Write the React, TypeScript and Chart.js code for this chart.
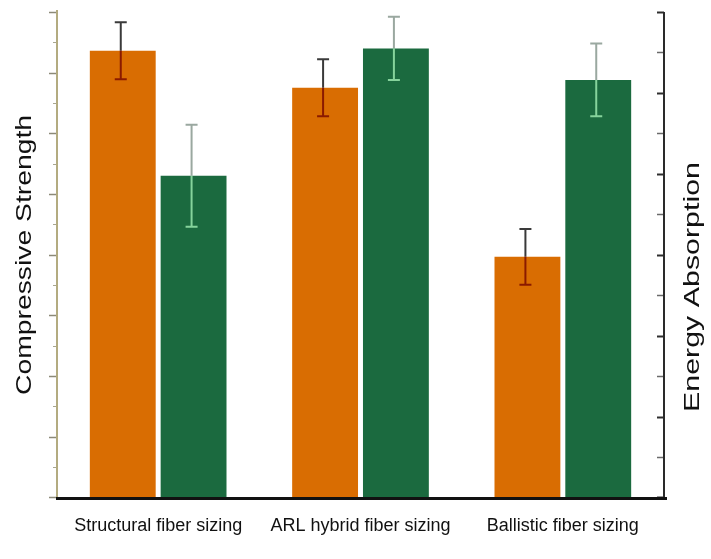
import { useEffect, useRef } from "react";
import { Chart, registerables } from "chart.js";

Chart.register(...registerables);

const categories = ["Structural fiber sizing", "ARL hybrid fiber sizing", "Ballistic fiber sizing"];
const compressiveStrength = [14.72, 13.5, 7.93];
const compressiveError = [0.94, 0.94, 0.92];
const energyAbsorption = [7.95, 11.1, 10.32];
const energyError = [1.26, 0.78, 0.9];
const leftAxisMax = 16;
const rightAxisMax = 12;
const leftTitle = "Compressive Strength";
const rightTitle = "Energy Absorption";

const ORANGE = "#d96d02";
const GREEN = "#1b6a3f";
const FONT = "'Liberation Sans', Arial, sans-serif";

const errorsByDataset = [compressiveError, energyError];
const errorColors = [
  { outside: "#3a3a3a", inside: "#8a1a00" },
  { outside: "#9aa8a0", inside: "#86d39c" },
];

const errorBarPlugin = {
  id: "errorBars",
  afterDatasetsDraw(chart: any) {
    const ctx = chart.ctx;
    chart.data.datasets.forEach((ds: any, di: number) => {
      const meta = chart.getDatasetMeta(di);
      const scale = chart.scales[meta.yAxisID];
      const errs = errorsByDataset[di];
      const col = errorColors[di];
      meta.data.forEach((bar: any, i: number) => {
        const v = ds.data[i];
        const e = errs[i];
        const x = bar.x - 2;
        const yTop = scale.getPixelForValue(v + e);
        const yBar = scale.getPixelForValue(v);
        const yBot = scale.getPixelForValue(v - e);
        const cap = 6;
        ctx.save();
        ctx.lineWidth = 2;
        ctx.strokeStyle = col.outside;
        ctx.beginPath();
        ctx.moveTo(x, yTop);
        ctx.lineTo(x, yBar);
        ctx.moveTo(x - cap, yTop);
        ctx.lineTo(x + cap, yTop);
        ctx.stroke();
        ctx.strokeStyle = col.inside;
        ctx.beginPath();
        ctx.moveTo(x, yBar);
        ctx.lineTo(x, yBot);
        ctx.moveTo(x - cap, yBot);
        ctx.lineTo(x + cap, yBot);
        ctx.stroke();
        ctx.restore();
      });
    });
  },
};

const axesPlugin = {
  id: "customAxes",
  afterDatasetsDraw(chart: any) {
    const ctx = chart.ctx;
    const area = chart.chartArea;
    const yL = chart.scales.y;
    const yR = chart.scales.y1;
    ctx.save();
    // left axis ticks
    for (let v = 0; v <= leftAxisMax; v++) {
      const py = Math.round(yL.getPixelForValue(v)) + 0.5;
      const major = v % 2 === 0;
      ctx.strokeStyle = major ? "#8c8a78" : "#a8a690";
      ctx.lineWidth = major ? 1.5 : 1;
      ctx.beginPath();
      ctx.moveTo(area.left - (major ? 8 : 4), py);
      ctx.lineTo(area.left, py);
      ctx.stroke();
    }
    // left axis line
    ctx.strokeStyle = "#b3ab80";
    ctx.lineWidth = 2;
    ctx.beginPath();
    ctx.moveTo(area.left, yL.getPixelForValue(leftAxisMax) - 2);
    ctx.lineTo(area.left, area.bottom);
    ctx.stroke();
    // right axis ticks (inward)
    for (let v = 0; v <= rightAxisMax; v++) {
      const py = Math.round(yR.getPixelForValue(v)) + 0.5;
      const major = v % 2 === 0;
      ctx.strokeStyle = major ? "#2e2e2e" : "#6a6a6a";
      ctx.lineWidth = major ? 2 : 1.5;
      ctx.beginPath();
      ctx.moveTo(area.right - 7, py);
      ctx.lineTo(area.right, py);
      ctx.stroke();
    }
    // right axis line
    ctx.strokeStyle = "#2a2a2a";
    ctx.lineWidth = 2;
    ctx.beginPath();
    ctx.moveTo(area.right, yR.getPixelForValue(rightAxisMax));
    ctx.lineTo(area.right, area.bottom + 2);
    ctx.stroke();
    // bottom axis line
    ctx.strokeStyle = "#111111";
    ctx.lineWidth = 3;
    ctx.beginPath();
    ctx.moveTo(area.left - 1, area.bottom + 1);
    ctx.lineTo(area.right + 3, area.bottom + 1);
    ctx.stroke();
    // axis titles (rotated, reading upward)
    ctx.fillStyle = "#111111";
    ctx.font = `22px ${FONT}`;
    ctx.textAlign = "center";
    ctx.textBaseline = "middle";
    const drawTitle = (text: string, cx: number, cy: number, len: number) => {
      const w = ctx.measureText(text).width;
      ctx.save();
      ctx.translate(cx, cy);
      ctx.rotate(-Math.PI / 2);
      ctx.scale(len / w, 1);
      ctx.fillText(text, 0, 0);
      ctx.restore();
    };
    drawTitle(leftTitle, 25, 255, 280);
    drawTitle(rightTitle, 693, 287, 250);
    ctx.restore();
  },
};

export default function App() {
  const canvasRef = useRef<HTMLCanvasElement | null>(null);

  useEffect(() => {
    if (!canvasRef.current) return;
    const chart = new Chart(canvasRef.current, {
      type: "bar",
      data: {
        labels: categories,
        datasets: [
          {
            label: leftTitle,
            data: compressiveStrength,
            backgroundColor: ORANGE,
            yAxisID: "y",
            categoryPercentage: 0.7,
            barPercentage: 0.93,
          },
          {
            label: rightTitle,
            data: energyAbsorption,
            backgroundColor: GREEN,
            yAxisID: "y1",
            categoryPercentage: 0.7,
            barPercentage: 0.93,
          },
        ],
      },
      options: {
        responsive: false,
        animation: false,
        layout: { padding: { left: 57, right: 47, top: 12, bottom: 4 } },
        plugins: { legend: { display: false }, tooltip: { enabled: false } },
        scales: {
          x: {
            grid: { display: false, drawTicks: false },
            border: { display: false },
            ticks: { color: "#111111", font: { family: FONT, size: 18 }, padding: 18, maxRotation: 0, autoSkip: false },
          },
          y: { display: false, min: 0, max: leftAxisMax },
          y1: { display: false, position: "right", min: 0, max: rightAxisMax },
        },
      },
      plugins: [errorBarPlugin, axesPlugin],
    });
    return () => chart.destroy();
  }, []);

  return (
    <div style={{ position: "fixed", left: 0, top: 0, width: 711, height: 559, background: "#ffffff" }}>
      <canvas ref={canvasRef} width={711} height={559} style={{ display: "block" }} />
    </div>
  );
}
